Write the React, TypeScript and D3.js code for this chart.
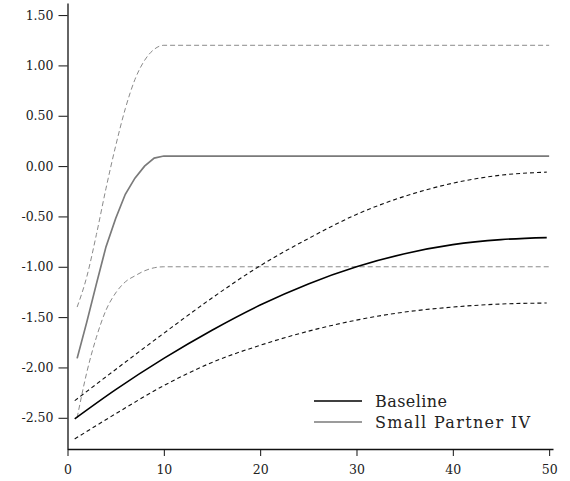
import {useEffect, useRef} from "react";
import * as d3 from "d3";

// baseline path + band
const baseX = [0.75, 5, 10, 15, 20, 25, 30, 35, 40, 45, 49.75];
const baseline = [-2.51, -2.22, -1.91, -1.63, -1.38, -1.17, -1.0, -0.87, -0.78, -0.73, -0.71];
const baseUpper = [-2.33, -2.02, -1.66, -1.31, -0.99, -0.72, -0.48, -0.3, -0.17, -0.09, -0.06];
const baseLower = [-2.71, -2.46, -2.18, -1.95, -1.78, -1.64, -1.53, -1.45, -1.4, -1.37, -1.36];

// Small Partner IV
const spX = [1, 2, 3, 4, 5, 6, 7, 8, 9, 10, 50];
const smallPartner = [-1.91, -1.55, -1.17, -0.8, -0.52, -0.28, -0.12, 0.0, 0.08, 0.1, 0.1];
const spUpper = [-1.4, -1.1, -0.68, -0.22, 0.2, 0.57, 0.86, 1.05, 1.16, 1.2, 1.2];
const spLower = [-2.5, -2.05, -1.7, -1.43, -1.26, -1.15, -1.09, -1.04, -1.01, -1.0, -1.0];

const yTicks = [-2.5, -2.0, -1.5, -1.0, -0.5, 0, 0.5, 1.0, 1.5];
const xTicks = [0, 10, 20, 30, 40, 50];
const legendLabels = ["Baseline", "Small Partner IV"];
const legendWidths = [72, 155];

function App() {
    const width = 570;
    const height = 481;
    const font = "'DejaVu Serif', serif";

    const xScale = d3.scaleLinear().domain([0, 50.4]).range([67.5, 553]);
    const yScale = d3.scaleLinear().domain([-2.81, 1.62]).range([449, 3]);

    const xAxisRef = useRef(null);
    const yAxisRef = useRef(null);

    useEffect(() => {
        const xAxis = d3.axisBottom(xScale).tickValues(xTicks).tickFormat(d3.format("d"))
            .tickSize(7).tickSizeOuter(0).tickPadding(9);
        const yAxis = d3.axisLeft(yScale).tickValues(yTicks).tickFormat(d3.format(".2f"))
            .tickSize(9).tickSizeOuter(0).tickPadding(5);
        const gx = d3.select(xAxisRef.current).call(xAxis);
        const gy = d3.select(yAxisRef.current).call(yAxis);
        [gx, gy].forEach(g => {
            g.selectAll("text").attr("font-family", font).attr("font-size", 12.5).attr("fill", "#222");
            g.selectAll("line").attr("stroke", "#111");
            g.select(".domain").attr("stroke", "#111").attr("stroke-width", 1.3);
        });
        // plain hyphen for negatives
        gy.selectAll("text").text(d => d3.format(".2f")(d).replace("\u2212", "-"));
    }, []);

    const smooth = (xs, ys) => d3.line()
        .x((d, i) => xScale(xs[i]))
        .y(d => yScale(d))
        .curve(d3.curveMonotoneX)(ys);
    const straight = (xs, ys) => d3.line()
        .x((d, i) => xScale(xs[i]))
        .y(d => yScale(d))(ys);

    return (
        <svg width={width} height={height} style={{position: "absolute", left: 0, top: 0, background: "white"}}>
            <g ref={xAxisRef} transform={`translate(0,${yScale.range()[0]})`}/>
            <g ref={yAxisRef} transform={`translate(${xScale.range()[0]},0)`}/>

            <path d={smooth(spX, spUpper)} fill="none" stroke="#8a8a8a" strokeWidth={1} strokeDasharray="5,3"/>
            <path d={smooth(spX, spLower)} fill="none" stroke="#8a8a8a" strokeWidth={1} strokeDasharray="5,3"/>
            <path d={straight(spX, smallPartner)} fill="none" stroke="#7a7a7a" strokeWidth={1.7}/>

            <path d={smooth(baseX, baseUpper)} fill="none" stroke="#111" strokeWidth={1.1} strokeDasharray="4,3"/>
            <path d={smooth(baseX, baseLower)} fill="none" stroke="#111" strokeWidth={1.1} strokeDasharray="4,3"/>
            <path d={smooth(baseX, baseline)} fill="none" stroke="#000" strokeWidth={1.6}/>

            {legendLabels.map((label, i) =>
                <g key={i} transform={`translate(314,${401 + i * 21})`}>
                    <line x1={0} x2={48} y1={0} y2={0} stroke={i === 0 ? "#000" : "#7a7a7a"} strokeWidth={1.6}/>
                    <text x={61} y={5.5} fontFamily={font} fontSize={16} fill="#222"
                          textLength={legendWidths[i]} lengthAdjust="spacing">{label}</text>
                </g>
            )}
        </svg>
    );
}

export default App;
